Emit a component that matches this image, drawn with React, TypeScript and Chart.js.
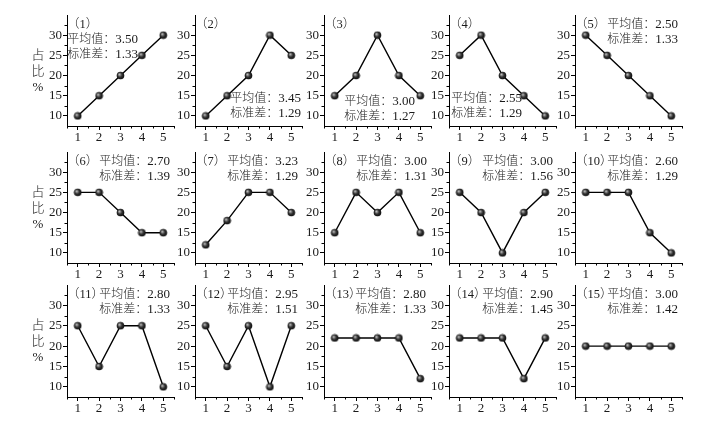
import React, { useEffect, useRef } from "react";
import { Chart, registerables } from "chart.js";

Chart.register(...registerables);

// ---------- data ----------
const categories = [1, 2, 3, 4, 5];
const xTicks = [1, 2, 3, 4, 5];
const yTicks = [10, 15, 20, 25, 30];
const xMinorTicks = [0.5, 1.5, 2.5, 3.5, 4.5, 5.5];
const yMinorTicks = [12.5, 17.5, 22.5, 27.5, 32.5];

const s1 = [10, 15, 20, 25, 30];
const s2 = [10, 15, 20, 30, 25];
const s3 = [15, 20, 30, 20, 15];
const s4 = [25, 30, 20, 15, 10];
const s5 = [30, 25, 20, 15, 10];
const s6 = [25, 25, 20, 15, 15];
const s7 = [12, 18, 25, 25, 20];
const s8 = [15, 25, 20, 25, 15];
const s9 = [25, 20, 10, 20, 25];
const s10 = [25, 25, 25, 15, 10];
const s11 = [25, 15, 25, 25, 10];
const s12 = [25, 15, 25, 10, 25];
const s13 = [22, 22, 22, 22, 12];
const s14 = [22, 22, 22, 12, 22];
const s15 = [20, 20, 20, 20, 20];
const series = [s1, s2, s3, s4, s5, s6, s7, s8, s9, s10, s11, s12, s13, s14, s15];

const panelTags = ["（1）", "（2）", "（3）", "（4）", "（5）", "（6）", "（7）", "（8）", "（9）", "（10）", "（11）", "（12）", "（13）", "（14）", "（15）"];
const means = ["3.50", "3.45", "3.00", "2.55", "2.50", "2.70", "3.23", "3.00", "3.00", "2.60", "2.80", "2.95", "2.80", "2.90", "3.00"];
const stds = ["1.33", "1.29", "1.27", "1.29", "1.33", "1.39", "1.29", "1.31", "1.56", "1.29", "1.33", "1.51", "1.33", "1.45", "1.42"];
const meanLabel = "平均值：";
const stdLabel = "标准差：";
const yTitleChars = ["占", "比", "%"];

// ---------- layout (not data) ----------
const colLeft = [67, 195, 324, 449, 575];
const rowTop = [15, 152, 285];
const rowH = [111, 111, 112];
const plotW = 107;
// stats text: [right edge offset from plot left, first line offset from plot top]
const statPos = [
  [71, 25], [106, 84], [91, 87], [73, 84], [103, 10],
  [103, 10], [103, 10], [103, 10], [104, 10], [103, 10],
  [103, 10], [103, 10], [102, 10], [104, 10], [103, 10],
];
const yTitleOffsets = [41, 57, 73];
const FONT = "'Liberation Serif', 'Noto Sans CJK SC', serif";

let ballCache: HTMLCanvasElement | null = null;
function ballImage(): HTMLCanvasElement {
  if (ballCache) return ballCache;
  const c = document.createElement("canvas");
  c.width = 9;
  c.height = 9;
  const g = c.getContext("2d")!;
  const grad = g.createRadialGradient(3.3, 3.3, 0.3, 4.5, 4.5, 4.5);
  grad.addColorStop(0, "#bdbdbd");
  grad.addColorStop(0.45, "#333");
  grad.addColorStop(1, "#000");
  g.fillStyle = grad;
  g.beginPath();
  g.arc(4.5, 4.5, 3.8, 0, Math.PI * 2);
  g.fill();
  ballCache = c;
  return c;
}

function Panel({ idx }: { idx: number }) {
  const ref = useRef<HTMLCanvasElement>(null);
  const r = Math.floor(idx / 5);
  const c = idx % 5;
  const padL = c === 0 ? 46 : 30;
  const left = colLeft[c] - padL;
  const top = rowTop[r] - 12;
  const w = padL + plotW + 10;
  const h = 12 + rowH[r] + 20;

  useEffect(() => {
    const annot = {
      id: "annot" + idx,
      afterDraw(chart: any) {
        const ctx = chart.ctx as CanvasRenderingContext2D;
        const area = chart.chartArea;
        const xs = chart.scales.x;
        const ys = chart.scales.y;
        ctx.save();
        // minor ticks
        ctx.strokeStyle = "#000";
        ctx.lineWidth = 1;
        ctx.beginPath();
        xMinorTicks.forEach((v) => {
          const px = Math.round(xs.getPixelForValue(v)) + 0.5;
          ctx.moveTo(px, area.bottom);
          ctx.lineTo(px, area.bottom + 2.5);
        });
        yMinorTicks.forEach((v) => {
          const py = Math.round(ys.getPixelForValue(v)) + 0.5;
          ctx.moveTo(area.left, py);
          ctx.lineTo(area.left - 2.5, py);
        });
        ctx.stroke();
        // texts
        ctx.fillStyle = "#1a1a1a";
        ctx.textBaseline = "middle";
        ctx.font = `300 12.5px ${FONT}`;
        ctx.textAlign = "left";
        ctx.fillText(panelTags[idx], area.left, area.top + 10);
        const [dx, dy] = statPos[idx];
        const drawStat = (label: string, value: string, y: number) => {
          const xr = area.left + dx;
          ctx.textAlign = "right";
          ctx.font = `13px ${FONT}`;
          ctx.fillText(value, xr, y);
          const vw = ctx.measureText(value).width;
          ctx.font = `300 12px ${FONT}`;
          ctx.fillText(label, xr - vw, y);
        };
        drawStat(meanLabel, means[idx], area.top + dy);
        drawStat(stdLabel, stds[idx], area.top + dy + 15);
        if (c === 0) {
          ctx.textAlign = "center";
          ctx.font = `300 13px ${FONT}`;
          yTitleChars.forEach((ch, i) => {
            ctx.fillText(ch, area.left - 29, area.top + yTitleOffsets[i]);
          });
        }
        ctx.restore();
      },
    };

    const tickFont = { family: FONT, size: 13 };
    const chart = new Chart(ref.current!, {
      type: "line",
      data: {
        datasets: [
          {
            data: categories.map((x, i) => ({ x, y: series[idx][i] })),
            borderColor: "#000",
            borderWidth: 1.4,
            pointStyle: ballImage() as any,
            pointRadius: 4,
            pointBackgroundColor: "#000",
            pointBorderColor: "#000",
            clip: false as any,
            tension: 0,
          },
        ],
      },
      options: {
        responsive: false,
        animation: false,
        devicePixelRatio: window.devicePixelRatio || 1,
        layout: { padding: { left: padL - 30, top: 12, right: 10, bottom: 0 } },
        plugins: { legend: { display: false }, tooltip: { enabled: false } },
        scales: {
          x: {
            type: "linear",
            min: 0.5,
            max: 5.5,
            afterBuildTicks: (s: any) => {
              s.ticks = xTicks.map((v) => ({ value: v }));
            },
            afterFit: (s: any) => {
              s.height = 20;
            },
            grid: { drawOnChartArea: false, drawTicks: true, tickLength: 4, color: "#000" },
            border: { display: true, color: "#000", width: 1 },
            ticks: { padding: 0, color: "#1a1a1a", font: tickFont, maxRotation: 0, autoSkip: false },
          },
          y: {
            type: "linear",
            min: 7.5,
            max: 35,
            afterBuildTicks: (s: any) => {
              s.ticks = yTicks.map((v) => ({ value: v }));
            },
            afterFit: (s: any) => {
              s.width = 30;
            },
            grid: { drawOnChartArea: false, drawTicks: true, tickLength: 4, color: "#000" },
            border: { display: true, color: "#000", width: 1 },
            ticks: { padding: 1, color: "#1a1a1a", font: tickFont, autoSkip: false },
          },
        },
      } as any,
      plugins: [annot],
    });
    return () => chart.destroy();
  }, [idx]);

  return (
    <canvas
      ref={ref}
      width={w}
      height={h}
      style={{ position: "absolute", left, top, width: w, height: h }}
    />
  );
}

export default function App() {
  return (
    <div
      style={{
        position: "absolute",
        left: 0,
        top: 0,
        width: 710,
        height: 429,
        background: "#fff",
        overflow: "hidden",
      }}
    >
      {series.map((_, i) => (
        <Panel key={i} idx={i} />
      ))}
    </div>
  );
}
